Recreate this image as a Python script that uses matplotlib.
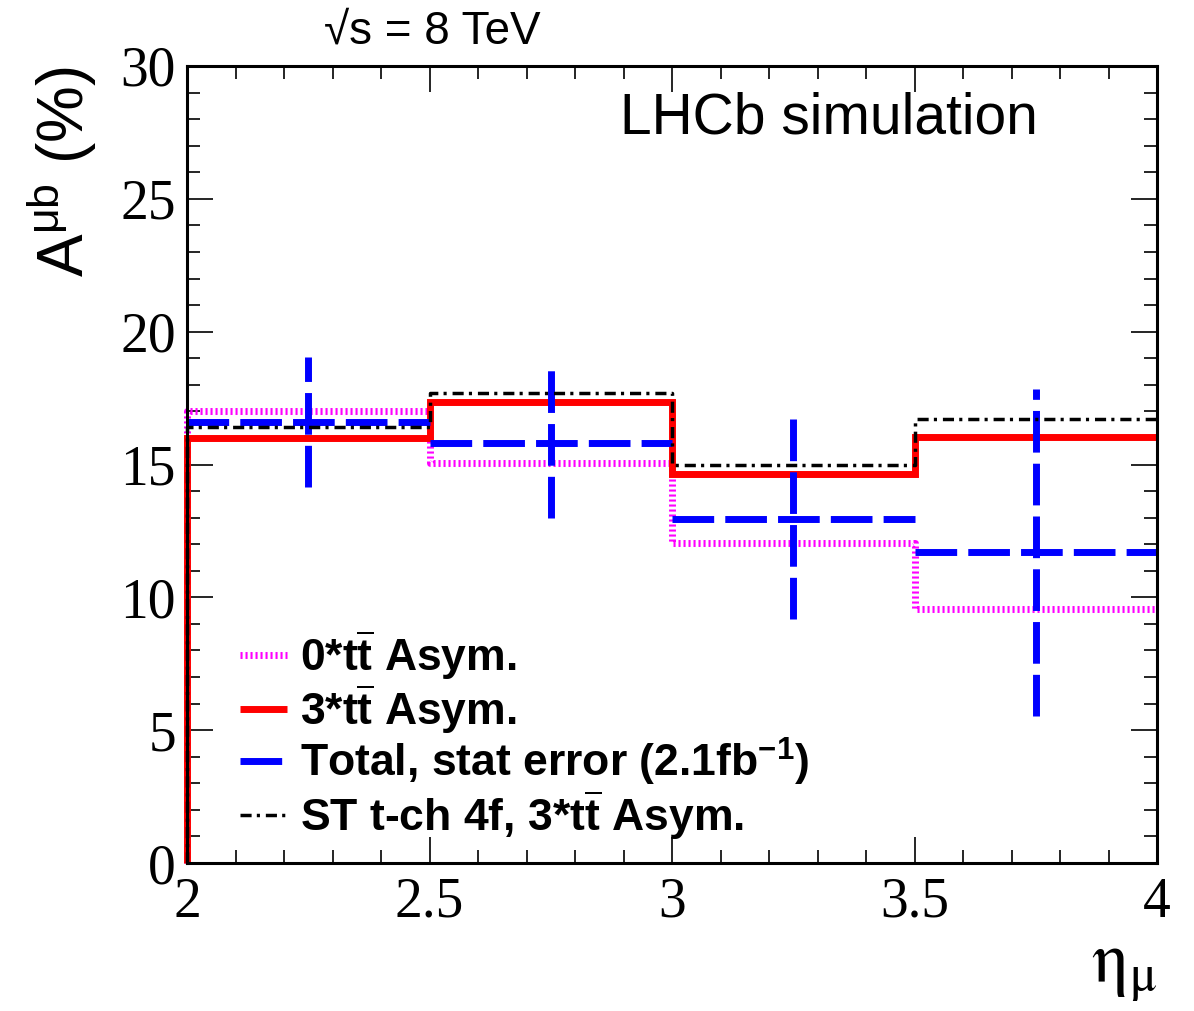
import numpy as np
import matplotlib
matplotlib.use("Agg")
import matplotlib.pyplot as plt
from matplotlib.ticker import MultipleLocator
from matplotlib.lines import Line2D

plt.rcParams['mathtext.fontset'] = 'custom'
plt.rcParams['mathtext.rm'] = 'Liberation Sans'
plt.rcParams['mathtext.it'] = 'Liberation Sans:italic'
plt.rcParams['mathtext.bf'] = 'Liberation Sans:bold'

# ---- data ----
edges = [2.0, 2.5, 3.0, 3.5, 4.0]
asym0 = [17.0, 15.05, 12.05, 9.55]        # 0*tt Asym.
asym3 = [16.0, 17.35, 14.65, 16.05]       # 3*tt Asym.
total = [16.6, 15.8, 12.95, 11.7]         # Total, stat error
total_err = [2.45, 2.8, 3.75, 6.15]
st4f = [16.4, 17.7, 15.0, 16.7]           # ST t-ch 4f, 3*tt Asym.

labels = [r"0*t$\overline{\mathbf{t}}$ Asym.", r"3*t$\overline{\mathbf{t}}$ Asym.",
          r"Total, stat error (2.1fb$^{\mathbf{-1}}$)",
          r"ST t-ch 4f, 3*t$\overline{\mathbf{t}}$ Asym."]

W, H = 1194, 1011
fig = plt.figure(figsize=(W / 100, H / 100), dpi=100)
ax = fig.add_axes([187 / W, 1 - 863 / H, 970 / W, 797 / H])

e = np.asarray(edges)


def outline(vals):
    v = np.asarray(vals)
    xs = np.r_[e[0], np.repeat(e, 2)[1:-1]]
    ys = np.r_[0.0, np.repeat(v, 2)]
    return xs, ys


lw_thick = 5.0
x0, y0 = outline(asym0)
l0, = ax.plot(x0, y0, color='#ff00ff', lw=lw_thick, ls=(0, (0.3, 0.42)),
              solid_capstyle='butt', dash_capstyle='butt', zorder=2,
              clip_on=False)
x3, y3 = outline(asym3)
l3, = ax.plot(x3, y3, color='#ff0000', lw=lw_thick, solid_joinstyle='miter',
              solid_capstyle='butt', zorder=3, clip_on=False)

bdash = (0, (6.0, 1.6))
ax.hlines(total, e[:-1], e[1:], colors='#0000ff', lw=lw_thick,
          linestyles=[bdash], zorder=4)
centers = 0.5 * (e[:-1] + e[1:])
tv = np.asarray(total)
te = np.asarray(total_err)
ax.vlines(centers, tv - te, tv + te, colors='#0000ff', lw=lw_thick,
          linestyles=[bdash], zorder=4)
lb = Line2D([], [], color='#0000ff', lw=lw_thick, ls=bdash)

xs4, ys4 = outline(st4f)
l4, = ax.plot(xs4, ys4, color='black', lw=2.5, ls=(0, (3.2, 1.5, 0.9, 1.7)),
              zorder=5, clip_on=False)

ax.set_xlim(2, 4)
ax.set_ylim(0, 30)
ax.xaxis.set_major_locator(MultipleLocator(0.5))
ax.xaxis.set_minor_locator(MultipleLocator(0.1))
ax.yaxis.set_major_locator(MultipleLocator(5))
ax.yaxis.set_minor_locator(MultipleLocator(1))
ax.tick_params(which='both', direction='in', top=True, right=True, width=1.2)
ax.tick_params(which='major', length=18.5)
ax.tick_params(which='minor', length=9.5)
ax.tick_params(axis='x', which='major', pad=10)
ax.tick_params(axis='y', which='major', pad=8)
for s in ax.spines.values():
    s.set_linewidth(2.2)
    s.set_zorder(6)
for lab in ax.get_xticklabels() + ax.get_yticklabels():
    lab.set_fontfamily('Liberation Serif')
    lab.set_fontsize(40)
ax.xaxis.set_major_formatter(matplotlib.ticker.FuncFormatter(lambda v, p: f"{v:g}"))

ax.text(-0.129, 1.0, r"A$^{\mathregular{\mu b}}$ (%)", transform=ax.transAxes,
        rotation=90, ha='center', va='top', fontsize=46,
        family='Liberation Sans')
ax.text(1.0, -0.09, r"$\mathrm{\eta}_{\mathrm{\mu}}$", transform=ax.transAxes,
        ha='right', va='top', fontsize=52, math_fontfamily='stix')
ax.text(0.2526, 1.015, "\u221as = 8 TeV", transform=ax.transAxes, ha='center',
        va='bottom', fontsize=33, family='Liberation Sans')
ax.text(0.446, 0.915, "LHCb simulation", transform=ax.transAxes, ha='left',
        va='baseline', fontsize=41, family='Liberation Sans')

leg = ax.legend([l0, l3, lb, l4], labels, loc='upper left',
                bbox_to_anchor=(0.055, 0.295), frameon=False,
                prop={'family': 'Liberation Sans', 'weight': 'bold', 'size': 32},
                handlelength=1.05, handletextpad=0.3, labelspacing=0.0,
                borderpad=0, borderaxespad=0)

fig.savefig("out.png", dpi=100)
